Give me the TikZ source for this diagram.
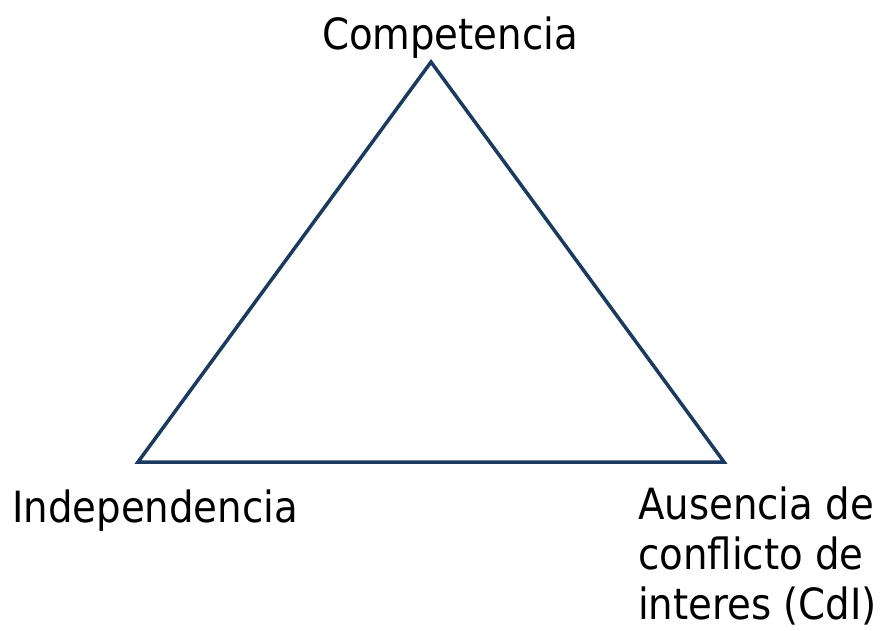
\documentclass[tikz,border=0pt]{standalone}
\usepackage{fontspec}
\setmainfont{DejaVu Sans Condensed}
\definecolor{tri}{HTML}{1B3A60}
\begin{document}
\begin{tikzpicture}[x=1pt,y=1pt,
  lbl/.style={inner sep=0pt,font=\fontsize{43}{52.5}\selectfont,text=black}]
\useasboundingbox (0,0) rectangle (882,630);
\coordinate (top) at (431,568);
\coordinate (bl) at (138,168);
\coordinate (br) at (724,168);
\draw[tri,line width=3.5pt,line join=miter] (top) -- (bl) -- (br) -- cycle;
\node[lbl,anchor=base] (comp) at (450,580) {Competencia};
\node[lbl,anchor=base west] (ind) at (12,108) {Independencia};
\node[lbl,anchor=base west] (aus1) at (638,111) {Ausencia de};
\node[lbl,anchor=base west] (aus2) at (638,61) {conflicto de};
\node[lbl,anchor=base west] (aus3) at (638,11) {interes (CdI)};
\end{tikzpicture}
\end{document}
